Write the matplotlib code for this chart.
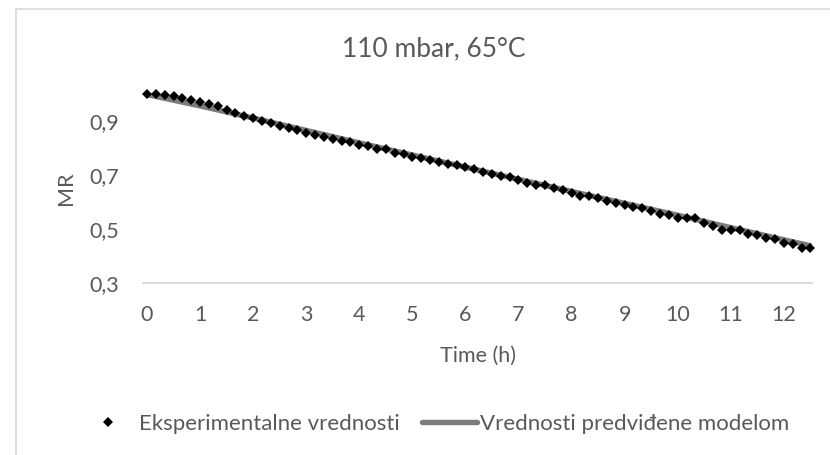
import numpy as np
import matplotlib.pyplot as plt
from matplotlib.patches import Rectangle
from matplotlib.ticker import FuncFormatter

plt.rcParams['font.family'] = ['Lato', 'DejaVu Sans']

# measured moisture ratio, one reading every 10 min
time_h = [i / 6 for i in range(76)]
mr_exp = [1.000, 0.999, 0.996, 0.991, 0.986, 0.979, 0.971, 0.964, 0.954, 0.941,
          0.930, 0.920, 0.912, 0.900, 0.892, 0.883, 0.874, 0.865, 0.857, 0.849,
          0.842, 0.835, 0.827, 0.821, 0.812, 0.806, 0.798, 0.797, 0.780, 0.778,
          0.768, 0.762, 0.755, 0.748, 0.742, 0.736, 0.730, 0.721, 0.712, 0.705,
          0.697, 0.692, 0.681, 0.672, 0.663, 0.662, 0.653, 0.643, 0.633, 0.624,
          0.622, 0.614, 0.602, 0.597, 0.589, 0.580, 0.578, 0.567, 0.555, 0.552,
          0.541, 0.541, 0.540, 0.524, 0.511, 0.496, 0.497, 0.495, 0.481, 0.479,
          0.465, 0.462, 0.447, 0.445, 0.430, 0.429]

# model prediction
time_model = [0, 1, 2, 3, 4, 5, 6, 7, 8, 9, 10, 11, 12, 12.5]
mr_model = [0.998, 0.956, 0.911, 0.865, 0.819, 0.774, 0.729, 0.684, 0.639,
            0.595, 0.551, 0.505, 0.460, 0.438]

x_ticks = list(range(13))
y_ticks = [0.3, 0.5, 0.7, 0.9]

txt = '#595959'
fs = 15.5

fig = plt.figure(figsize=(8.3, 4.55), dpi=100)
ax = fig.add_axes([143 / 830, 1 - 283 / 455, (812 - 143) / 830, (283 - 94) / 455])

ax.plot(time_model, mr_model, color='#7b7b7b', lw=3.9, solid_capstyle='round',
        label='Vrednosti predviđene modelom', zorder=2)
ax.plot(time_h, mr_exp, ls='none', marker='D', ms=4.6, mew=0, color='black',
        label='Eksperimentalne vrednosti', clip_on=False, zorder=3)

ax.set_xlim(-0.075, 12.53)
ax.set_ylim(0.3, 1.0)
ax.set_xticks(x_ticks)
ax.set_yticks(y_ticks)
ax.yaxis.set_major_formatter(FuncFormatter(lambda v, p: f'{v:.1f}'.replace('.', ',')))

for s in ['top', 'right', 'left']:
    ax.spines[s].set_visible(False)
ax.spines['bottom'].set_color('#d9d9d9')
ax.spines['bottom'].set_linewidth(1.3)
ax.tick_params(axis='both', length=0, labelsize=fs, labelcolor=txt)
ax.tick_params(axis='x', pad=16)
ax.tick_params(axis='y', pad=17)

ax.set_xlabel('Time (h)', fontsize=fs, color=txt, labelpad=15)
ax.set_ylabel('MR', fontsize=fs, color=txt, labelpad=10)

fig.text(434 / 830, 1 - 48.5 / 455, '110 mbar, 65°C', fontsize=19, color=txt,
         ha='center', va='center')

# chart area frame, running off the right and bottom edges
fig.patches.append(Rectangle((15.5 / 830, -0.1), 1.5, 1.1 - 9.5 / 455,
                             transform=fig.transFigure, fill=False,
                             ec='#d9d9d9', lw=1.2))

h, l = ax.get_legend_handles_labels()
fig.legend(h[::-1], l[::-1], loc='center', bbox_to_anchor=(435 / 830, 1 - 424 / 455),
           ncol=2, frameon=False, fontsize=16, labelcolor=txt,
           handlelength=2.5, handletextpad=0.12, columnspacing=1.0)

fig.savefig('out.png', dpi=100)
